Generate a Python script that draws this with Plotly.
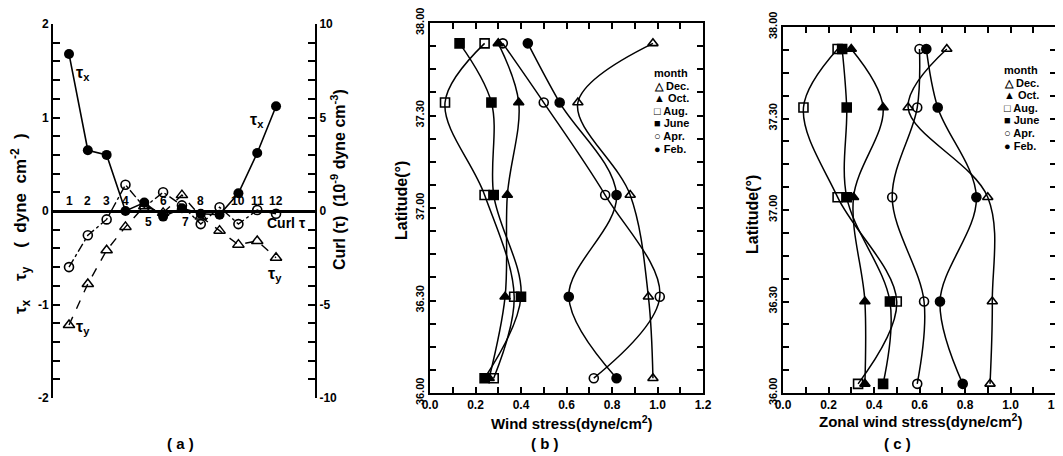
import plotly.graph_objects as go

# page body has an 8 px default margin: the figure is sized and placed to compensate
OFF = 8
W, H = 1055, 446

# ---------------- Panel (a) data ----------------
months = [1, 2, 3, 4, 5, 6, 7, 8, 9, 10, 11, 12]
tau_x = [1.68, 0.65, 0.60, 0.0, 0.09, -0.06, 0.03, -0.03, -0.04, 0.19, 0.62, 1.12]
tau_y = [-1.22, -0.78, -0.42, -0.17, 0.05, -0.02, 0.17, -0.06, -0.21, -0.36, -0.32, -0.50]
curl_tau = [-3.0, -1.3, -0.45, 1.4, 0.2, 1.0, 0.3, -0.7, 0.2, -0.7, 0.05, -0.15]
month_labels_above = [1, 2, 3, 4, 6, 8, 10, 11, 12]
month_labels_below = [5, 7]

# ---------------- Panels (b), (c) data ----------------
month_names = ["Dec.", "Oct.", "Aug.", "June", "Apr.", "Feb."]
symbols = ["triangle-up-open", "triangle-up", "square-open", "square", "circle-open", "circle"]
legend_glyphs = ["△", "▲", "□", "■", "○", "●"]

lat_b = [37.89, 37.57, 37.07, 36.52, 36.08]
wind_b = {
    "Dec.": [0.98, 0.65, 0.88, 0.96, 0.98],
    "Oct.": [0.30, 0.39, 0.34, 0.33, 0.26],
    "Aug.": [0.24, 0.066, 0.24, 0.37, 0.28],
    "June": [0.13, 0.27, 0.28, 0.40, 0.24],
    "Apr.": [0.32, 0.50, 0.77, 1.01, 0.72],
    "Feb.": [0.43, 0.57, 0.82, 0.61, 0.82],
}

lat_c = [37.88, 37.56, 37.07, 36.50, 36.05]
wind_c = {
    "Dec.": [0.72, 0.55, 0.90, 0.92, 0.91],
    "Oct.": [0.30, 0.44, 0.31, 0.36, 0.36],
    "Aug.": [0.24, 0.09, 0.24, 0.50, 0.33],
    "June": [0.26, 0.28, 0.28, 0.47, 0.44],
    "Apr.": [0.60, 0.59, 0.48, 0.62, 0.59],
    "Feb.": [0.63, 0.68, 0.85, 0.69, 0.79],
}

lat_tickvals = [36 + 0.125 * k for k in range(17)]
lat_ticktext = {36.0: "36.00", 36.5: "36.30", 37.0: "37.00", 37.5: "37.30", 38.0: "38.00"}
ws_tickvals = [round(0.1 * k, 1) for k in range(13)]

FONT = "Liberation Sans, Arial, sans-serif"
BLACK = "black"

fig = go.Figure()

# ---- panel (a) traces ----
fig.add_trace(go.Scatter(
    x=months, y=tau_x, mode="lines+markers", xaxis="x", yaxis="y",
    line=dict(color=BLACK, width=1.6),
    marker=dict(symbol="circle", size=10, color=BLACK), showlegend=False))
fig.add_trace(go.Scatter(
    x=months, y=tau_y, mode="lines+markers", xaxis="x", yaxis="y",
    line=dict(color=BLACK, width=1.4, dash="dash"),
    marker=dict(symbol="triangle-up-open", size=10, color=BLACK, line=dict(width=1.5)),
    showlegend=False))
fig.add_trace(go.Scatter(
    x=months, y=curl_tau, mode="lines+markers", xaxis="x", yaxis="y2",
    line=dict(color=BLACK, width=1.4, dash="dashdot"),
    marker=dict(symbol="circle-open", size=9, color=BLACK, line=dict(width=1.6)),
    showlegend=False))

# ---- panels (b) and (c) traces ----
for lat, data, xa, ya in [(lat_b, wind_b, "x2", "y3"), (lat_c, wind_c, "x3", "y4")]:
    for name, sym in zip(month_names, symbols):
        fig.add_trace(go.Scatter(
            x=data[name], y=lat, mode="lines+markers", xaxis=xa, yaxis=ya,
            line=dict(color=BLACK, width=1.5, shape="spline", smoothing=1.0),
            marker=dict(symbol=sym, size=9, color=BLACK, line=dict(color=BLACK, width=1.6)),
            name=name, showlegend=False))


def px(xp):
    return (xp - OFF) / W


def py(yp):
    return 1 - (yp - OFF) / H


axis_common = dict(showgrid=False, color=BLACK, linecolor=BLACK, tickcolor=BLACK,
                   ticklabeloverflow="allow",
                   tickfont=dict(family=FONT, size=12, color=BLACK, weight="bold"))
lat_axis_common = dict(axis_common)
lat_axis_common["tickfont"] = dict(family=FONT, size=11, color=BLACK, weight="bold")

a_vals = [round(-2 + 0.2 * k, 1) for k in range(21)]
a_text = [str(int(round(v))) if abs(v - round(v)) < 1e-6 else "" for v in a_vals]

layout = dict(
    width=W, height=H, margin=dict(l=0, r=0, t=0, b=0, autoexpand=False),
    paper_bgcolor="white", plot_bgcolor="white",
    font=dict(family=FONT, color=BLACK, size=12),
    showlegend=False,
    # panel (a)
    xaxis=dict(domain=[px(53), px(315)], range=[0.15, 14.07], visible=False, anchor="y"),
    yaxis=dict(domain=[py(398), py(24)], range=[-2, 2], anchor="x",
               showline=True, linewidth=2, ticks="inside", ticklen=7, tickwidth=1.5,
               tickvals=a_vals, ticktext=a_text,
               zeroline=True, zerolinewidth=2.5, zerolinecolor=BLACK, **axis_common),
    yaxis2=dict(range=[-10, 10], overlaying="y", side="right", anchor="x",
                showline=True, linewidth=2, ticks="inside", ticklen=7, tickwidth=1.5,
                tickvals=list(range(-10, 11)),
                ticktext=[str(v) if v % 5 == 0 else "" for v in range(-10, 11)],
                zeroline=False, **axis_common),
    # panel (b)
    xaxis2=dict(domain=[px(430), px(703)], range=[0, 1.2], anchor="y3",
                showline=True, linewidth=2, mirror="ticks", ticks="inside", ticklen=6, tickwidth=1.5,
                tickvals=ws_tickvals,
                ticktext=[f"{v:.1f}" if k % 2 == 0 else "" for k, v in enumerate(ws_tickvals)],
                zeroline=False, **axis_common),
    yaxis3=dict(domain=[py(393), py(23)], range=[36, 38], anchor="x2",
                showline=True, linewidth=2, mirror="ticks", ticks="inside", ticklen=6, tickwidth=1.5,
                tickvals=lat_tickvals,
                ticktext=[lat_ticktext.get(v, "") for v in lat_tickvals],
                tickangle=-90, zeroline=False, **lat_axis_common),
    # panel (c)
    xaxis3=dict(domain=[px(783), px(1056)], range=[0, 1.2], anchor="y4",
                showline=True, linewidth=2, mirror="ticks", ticks="inside", ticklen=6, tickwidth=1.5,
                tickvals=ws_tickvals,
                ticktext=[f"{v:.1f}" if k % 2 == 0 else "" for k, v in enumerate(ws_tickvals)],
                zeroline=False, **axis_common),
    yaxis4=dict(domain=[py(393), py(27)], range=[36, 38], anchor="x3",
                showline=True, linewidth=2, mirror="ticks", ticks="inside", ticklen=6, tickwidth=1.5,
                tickvals=lat_tickvals,
                ticktext=[lat_ticktext.get(v, "") for v in lat_tickvals],
                tickangle=-90, zeroline=False, **lat_axis_common),
)
fig.update_layout(**layout)

ann = []


def paper_text(text, x, y, size=14, angle=0, xanchor="center", yanchor="middle", align="center", bold=True):
    ann.append(dict(text=text, x=px(x), y=py(y), xref="paper", yref="paper",
                    showarrow=False, textangle=angle, xanchor=xanchor, yanchor=yanchor,
                    align=align,
                    font=dict(family=FONT, size=size, color=BLACK, weight="bold" if bold else "normal")))


def data_text(text, x, y, xref="x", yref="y", size=13, yshift=0, xanchor="center"):
    ann.append(dict(text=text, x=x, y=y, xref=xref, yref=yref, showarrow=False,
                    yshift=yshift, xanchor=xanchor,
                    font=dict(family=FONT, size=size, color=BLACK, weight="bold")))


# panel (a) texts
paper_text("τ<sub>x</sub>    τ<sub>y</sub>    (  dyne  cm<sup>-2</sup>  )", 20, 224, size=17, angle=-90)
paper_text("Curl (τ)  (10<sup>-9</sup> dyne cm<sup>-3</sup>)", 338, 180, size=16, angle=-90)
for m in month_labels_above:
    data_text(str(m), m, 0, size=12, yshift=10)
for m in month_labels_below:
    data_text(str(m), m + 0.2, 0, size=12, yshift=-11)
data_text("τ<sub>x</sub>", 1.75, 1.47, size=16)
data_text("τ<sub>x</sub>", 11.0, 0.97, size=16)
data_text("τ<sub>y</sub>", 1.75, -1.25, size=16)
data_text("τ<sub>y</sub>", 11.95, -0.68, size=16)
data_text("Curl τ", 12.55, -0.13, size=14)
paper_text("( a )", 180, 443, size=15)

# panel (b) texts
paper_text("Latitude(°)", 401, 201, size=16, angle=-90)
paper_text("Wind stress(dyne/cm<sup>2</sup>)", 572, 422, size=15)
paper_text("( b )", 545, 443, size=15)

# panel (c) texts
paper_text("Latitude(°)", 752, 215, size=16, angle=-90)
paper_text("Zonal wind stress(dyne/cm<sup>2</sup>)", 920, 420, size=15)
paper_text("( c )", 897, 443, size=15)

# legends (month key) for (b) and (c), one line each
legend_lines = ["month"] + [f"{g} {n}" for g, n in zip(legend_glyphs, month_names)]
for x0, y0 in [(652, 73), (1002, 70)]:
    for i, line in enumerate(legend_lines):
        paper_text(line, x0, y0 + 12.6 * i, size=11, xanchor="left", align="left")

fig.update_layout(annotations=ann)
fig.write_html("out.html")
